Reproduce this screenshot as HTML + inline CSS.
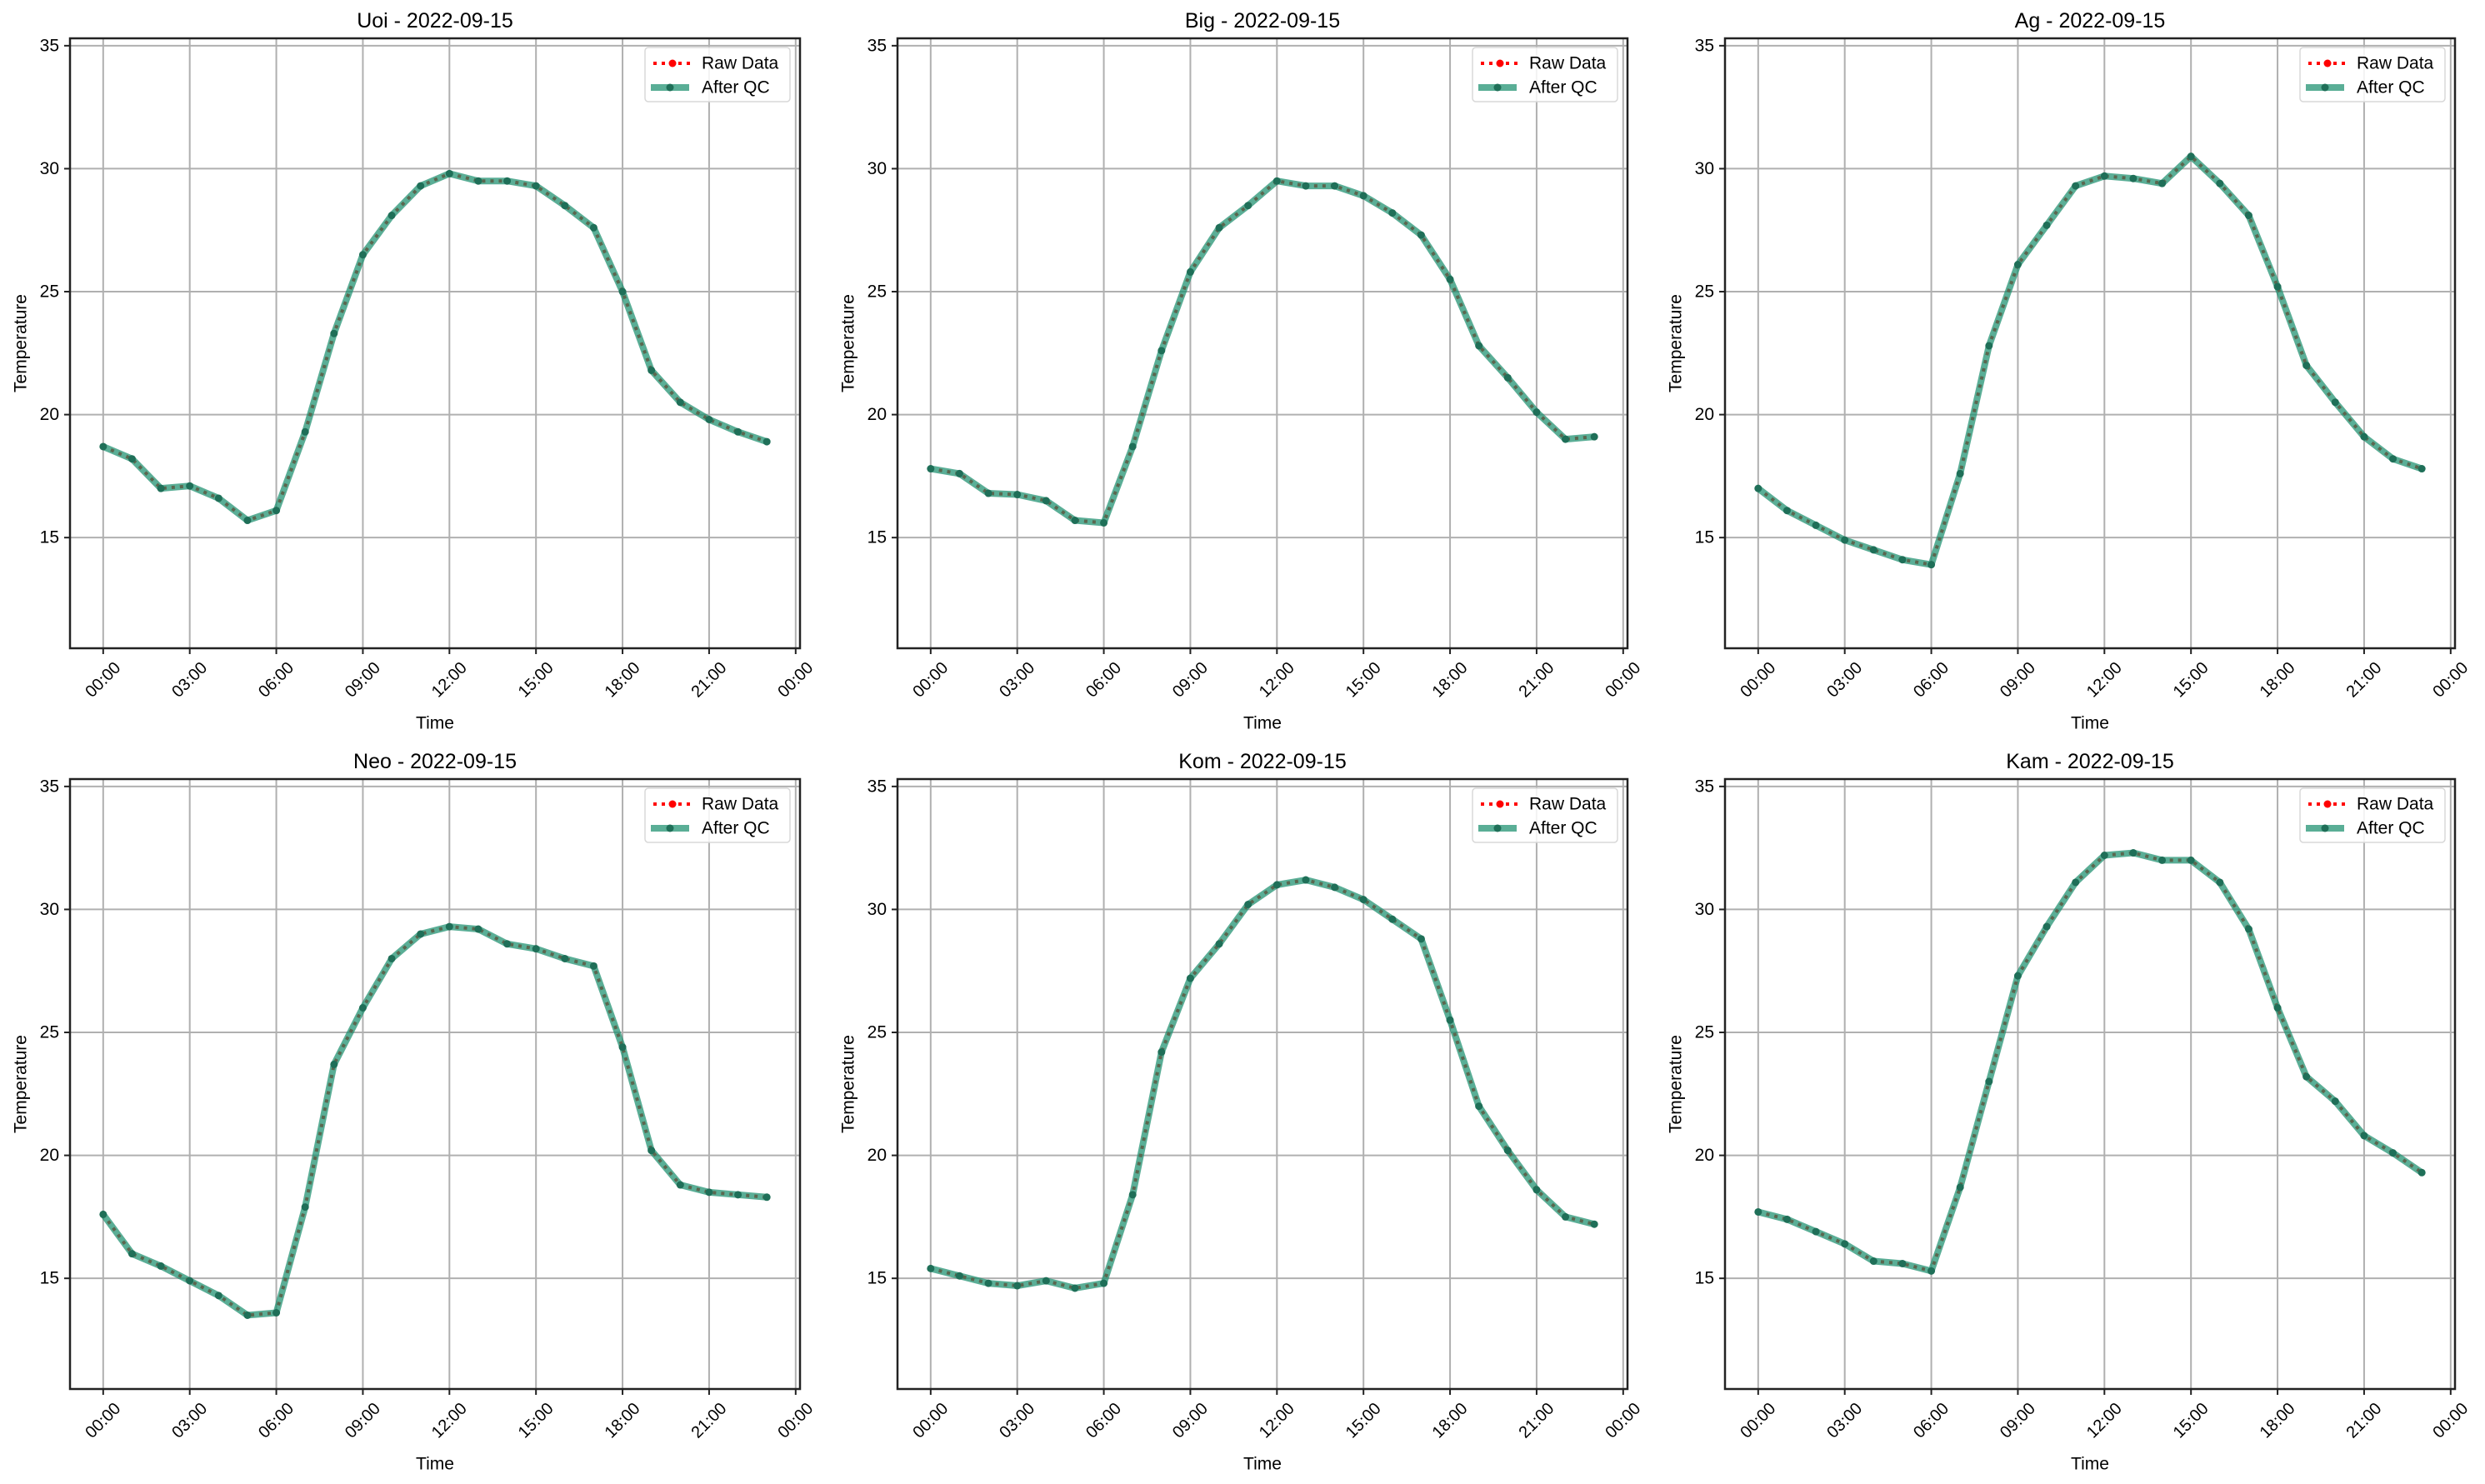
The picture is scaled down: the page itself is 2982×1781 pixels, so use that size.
<!DOCTYPE html>
<html><head><meta charset="utf-8"><style>
html,body{margin:0;padding:0;background:#fff;}
svg{display:block;font-family:"Liberation Sans","DejaVu Sans",sans-serif;}
</style></head><body>
<svg id="fig" width="2982" height="1781" viewBox="0 0 2982 1781" xmlns="http://www.w3.org/2000/svg"></svg>
<script>
const stations = ["Uoi","Big","Ag","Neo","Kom","Kam"];
const dateLabel = "2022-09-15";
const hours = [0,1,2,3,4,5,6,7,8,9,10,11,12,13,14,15,16,17,18,19,20,21,22,23];
const xTickHours = [0,3,6,9,12,15,18,21,24];
const xTickLabels = ["00:00","03:00","06:00","09:00","12:00","15:00","18:00","21:00","00:00"];
const yTicks = [15,20,25,30,35];
const tempUoi = [18.7,18.2,17.0,17.1,16.6,15.7,16.1,19.3,23.3,26.5,28.1,29.3,29.8,29.5,29.5,29.3,28.5,27.6,25.0,21.8,20.5,19.8,19.3,18.9];
const tempBig = [17.8,17.6,16.8,16.75,16.5,15.7,15.6,18.7,22.6,25.8,27.6,28.5,29.5,29.3,29.3,28.9,28.2,27.3,25.5,22.8,21.5,20.1,19.0,19.1];
const tempAg = [17.0,16.1,15.5,14.9,14.5,14.1,13.9,17.6,22.8,26.1,27.7,29.3,29.7,29.6,29.4,30.5,29.4,28.1,25.2,22.0,20.5,19.1,18.2,17.8];
const tempNeo = [17.6,16.0,15.5,14.9,14.3,13.5,13.6,17.9,23.7,26.0,28.0,29.0,29.3,29.2,28.6,28.4,28.0,27.7,24.4,20.2,18.8,18.5,18.4,18.3];
const tempKom = [15.4,15.1,14.8,14.7,14.9,14.6,14.8,18.4,24.2,27.2,28.6,30.2,31.0,31.2,30.9,30.4,29.6,28.8,25.5,22.0,20.2,18.6,17.5,17.2];
const tempKam = [17.7,17.4,16.9,16.4,15.7,15.6,15.3,18.7,23.0,27.3,29.3,31.1,32.2,32.3,32.0,32.0,31.1,29.2,26.0,23.2,22.2,20.8,20.1,19.3];
const series = [tempUoi,tempBig,tempAg,tempNeo,tempKom,tempKam];

const NS="http://www.w3.org/2000/svg";
const svg=document.getElementById('fig');
function el(tag,attrs,parent){const e=document.createElementNS(NS,tag);for(const k in attrs)e.setAttribute(k,attrs[k]);(parent||svg).appendChild(e);return e;}

const W=876, H=732, X0=84, Y0=46, DX=993, DY=889;
const XMIN=-1.15, XMAX=24.15, YMIN=10.5, YMAX=35.3;

series.forEach((vals,i)=>{
  const ox=X0+(i%3)*DX, oy=Y0+Math.floor(i/3)*DY;
  const xs=h=>ox+(h-XMIN)/(XMAX-XMIN)*W;
  const ys=v=>oy+(YMAX-v)/(YMAX-YMIN)*H;
  const g=el('g',{});
  
  
  xTickHours.forEach((h,j)=>{
    const x=xs(h);
    const gl=el('line',{x1:x,x2:x,y1:oy,y2:oy+H,stroke:'#b0b0b0','stroke-width':2},g);
    
    
    const tk=el('line',{x1:x,x2:x,y1:oy+H,y2:oy+H+7,stroke:'#222','stroke-width':2},g);
    
    
    const cy=oy+H+38;
    const t=el('text',{x:x,y:cy,'font-size':20,'text-anchor':'middle','dominant-baseline':'central',fill:'#000',transform:`rotate(-45 ${x} ${cy})`},g);
    t.textContent=xTickLabels[j];
    
    
  });
  yTicks.forEach(v=>{
    const y=ys(v);
    const gl=el('line',{x1:ox,x2:ox+W,y1:y,y2:y,stroke:'#b0b0b0','stroke-width':2},g);
    
    
    const tk=el('line',{x1:ox-7,x2:ox,y1:y,y2:y,stroke:'#222','stroke-width':2},g);
    
    
    const t=el('text',{x:ox-13,y:y,'font-size':21,'text-anchor':'end','dominant-baseline':'central',fill:'#000'},g);
    t.textContent=v;
    
    
  });
  const pts=hours.map((h,k)=>xs(h)+','+ys(vals[k])).join(' ');
  const raw=el('polyline',{points:pts,fill:'none',stroke:'#ff0000','stroke-width':4,'stroke-dasharray':'4 6'},g);
  
  
  hours.forEach((h,k)=>{
    const c=el('circle',{cx:xs(h),cy:ys(vals[k]),r:4,fill:'#ff0000'},g);
    
    
  });
  const qc=el('polyline',{points:pts,fill:'none',stroke:'#1b8f6e','stroke-opacity':0.72,'stroke-width':8,'stroke-linejoin':'round'},g);
  
  
  hours.forEach((h,k)=>{
    const c=el('circle',{cx:xs(h),cy:ys(vals[k]),r:4.5,fill:'#1f6f58'},g);
    
    
  });
  const fr=el('rect',{x:ox,y:oy,width:W,height:H,fill:'none',stroke:'#222','stroke-width':2.5},g);
  
  
  const ti=el('text',{x:ox+W/2,y:oy-21,'font-size':25,'text-anchor':'middle','dominant-baseline':'central',fill:'#000'},g);
  ti.textContent=stations[i]+' - '+dateLabel;
  
  
  const xl=el('text',{x:ox+W/2,y:oy+H+90,'font-size':21,'text-anchor':'middle','dominant-baseline':'central',fill:'#000'},g);
  xl.textContent='Time';
  
  
  const yx=ox-59, yy=oy+H/2;
  const yl=el('text',{x:yx,y:yy,'font-size':21,'text-anchor':'middle','dominant-baseline':'central',fill:'#000',transform:`rotate(-90 ${yx} ${yy})`},g);
  yl.textContent='Temperature';
  
  
  const lx=ox+W-186, ly=oy+11;
  const lg=el('g',{},g);
  
  
  el('rect',{x:lx,y:ly,width:174,height:65,rx:4,fill:'#fff','fill-opacity':0.85,stroke:'#d8d8d8','stroke-width':1.5},lg);
  const r1=el('line',{x1:lx+10,x2:lx+56,y1:ly+19,y2:ly+19,stroke:'#ff0000','stroke-width':4,'stroke-dasharray':'4 6'},lg);
  
  
  el('circle',{cx:lx+33,cy:ly+19,r:4.5,fill:'#ff0000'},lg);
  const t1=el('text',{x:lx+68,y:ly+19,'font-size':21,'dominant-baseline':'central',fill:'#000'},lg);
  t1.textContent='Raw Data';
  
  
  const r2=el('line',{x1:lx+7,x2:lx+53,y1:ly+48,y2:ly+48,stroke:'#1b8f6e','stroke-opacity':0.72,'stroke-width':8},lg);
  
  
  el('circle',{cx:lx+30,cy:ly+48,r:4.5,fill:'#1f6f58'},lg);
  const t2=el('text',{x:lx+68,y:ly+48,'font-size':21,'dominant-baseline':'central',fill:'#000'},lg);
  t2.textContent='After QC';
  
  
});
</script>
</body></html>
